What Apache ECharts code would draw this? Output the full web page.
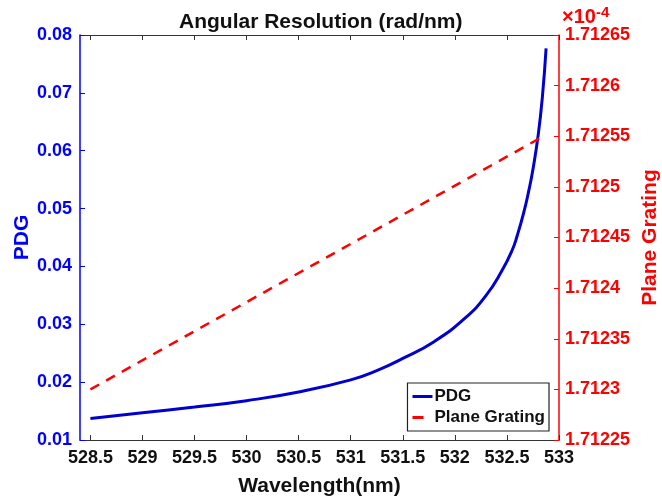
<!DOCTYPE html>
<html>
<head>
<meta charset="utf-8">
<script src="https://cdn.jsdelivr.net/npm/echarts@6/dist/echarts.min.js"></script>
<style>
  html, body { margin: 0; padding: 0; background: #fff; }
  #chart { width: 662px; height: 501px; }
</style>
</head>
<body>
<div id="chart"></div>
<script>
// wavelength (nm) and PDG angular resolution
var pdgWavelength = [528.5, 529.0, 529.5, 530.0, 530.5, 531.0, 531.25, 531.5, 531.8, 532.1, 532.3,
                     532.45, 532.55, 532.6, 532.66, 532.71, 532.75, 532.8, 532.84, 532.876]
var pdgValues = [0.0137, 0.0147, 0.0157, 0.0168, 0.0183, 0.0204, 0.0220, 0.0241, 0.0270, 0.0311, 0.0350,
                 0.0392, 0.0428, 0.0454, 0.0492, 0.0531, 0.0568, 0.0627, 0.0692, 0.0777]

// plane grating (x1e-4 rad/nm)
var planeWavelength = [528.5, 532.85]
var planeValues = [1.7123, 1.71255]

var xTicks = [528.5, 529, 529.5, 530, 530.5, 531, 531.5, 532, 532.5, 533]

var FONT = 'Liberation Sans'
var BLUE = '#0000ff'
var LINE_BLUE = '#0000d0'
var RED = '#ff0000'

function pairs (xs, ys) {
  return xs.map(function (x, i) { return [x, ys[i]] })
}

var option = {
  animation: false,
  backgroundColor: '#fff',
  title: {
    text: 'Angular Resolution (rad/nm)',
    left: 174,
    top: 7,
    textStyle: { fontFamily: FONT, fontWeight: 'bold', fontSize: 21, color: '#111' }
  },
  graphic: [{
    type: 'text',
    left: 562,
    top: 5,
    style: {
      text: '×10{s|-4}',
      rich: { s: { fontSize: 15, fontWeight: 'bold', fill: RED, fontFamily: FONT, verticalAlign: 'top', padding: [0, 0, 10, 0] } },
      fill: RED,
      fontFamily: FONT,
      fontSize: 20,
      fontWeight: 'bold'
    }
  }],
  legend: {
    orient: 'vertical',
    right: 113,
    top: 383,
    backgroundColor: '#fff',
    borderColor: '#222',
    borderWidth: 1.2,
    borderRadius: 0,
    padding: [5, 4, 5, 5],
    itemGap: 4,
    itemWidth: 20,
    itemHeight: 3,
    textStyle: { fontFamily: FONT, fontWeight: 'bold', fontSize: 17, color: '#111', padding: [0, 0, 0, -3] },
    data: [
      { name: 'PDG', icon: 'path://M0,0H20V3H0Z', itemStyle: { color: LINE_BLUE } },
      { name: 'Plane Grating', icon: 'path://M0,0H11V3H0Z M20,0H20.01V3H20Z', itemStyle: { color: RED } }
    ]
  },
  grid: { left: 80, right: 103, top: 35, bottom: 61, containLabel: false, outerBoundsMode: 'none' },
  xAxis: [{
    type: 'value',
    min: 528.4,
    max: 533,
    name: 'Wavelength(nm)',
    nameLocation: 'middle',
    nameGap: 36,
    nameMoveOverlap: false,
    nameTextStyle: { fontFamily: FONT, fontWeight: 'bold', fontSize: 21, color: '#111' },
    axisLine: { lineStyle: { color: '#333', width: 1.2 } },
    axisTick: { inside: true, length: 5, customValues: xTicks, lineStyle: { color: '#333' } },
    axisLabel: {
      customValues: xTicks,
      margin: 9,
      fontFamily: FONT, fontWeight: 'bold', fontSize: 18, color: '#111'
    },
    splitLine: { show: false }
  }, {
    type: 'value',
    position: 'top',
    min: 528.4,
    max: 533,
    axisLine: { onZero: false, lineStyle: { color: '#333', width: 1.2 } },
    axisTick: { inside: true, length: 5, customValues: xTicks, lineStyle: { color: '#333' } },
    axisLabel: { show: false },
    splitLine: { show: false }
  }],
  yAxis: [{
    type: 'value',
    min: 0.01,
    max: 0.08,
    interval: 0.01,
    name: 'PDG',
    nameLocation: 'middle',
    nameRotate: 90,
    nameGap: 47,
    nameMoveOverlap: false,
    nameTextStyle: { fontFamily: FONT, fontWeight: 'bold', fontSize: 21, color: BLUE },
    axisLine: { show: true, lineStyle: { color: BLUE, width: 1.5 } },
    axisTick: { show: true, inside: true, length: 5, lineStyle: { color: BLUE } },
    axisLabel: {
      margin: 8,
      fontFamily: FONT, fontWeight: 'bold', fontSize: 18, color: BLUE,
      formatter: function (v) { return v.toFixed(2) }
    },
    splitLine: { show: false }
  }, {
    type: 'value',
    position: 'right',
    min: 1.71225,
    max: 1.71265,
    interval: 0.00005,
    name: 'Plane Grating',
    nameLocation: 'middle',
    nameRotate: 90,
    nameGap: 81,
    nameMoveOverlap: false,
    nameTextStyle: { fontFamily: FONT, fontWeight: 'bold', fontSize: 21, color: RED },
    axisLine: { show: true, lineStyle: { color: RED, width: 1.5 } },
    axisTick: { show: true, inside: true, length: 5, lineStyle: { color: RED } },
    axisLabel: {
      margin: 6,
      fontFamily: FONT, fontWeight: 'bold', fontSize: 18, color: RED,
      formatter: function (v) { return String(parseFloat(v.toFixed(5))) }
    },
    splitLine: { show: false }
  }],
  series: [{
    name: 'PDG',
    type: 'line',
    xAxisIndex: 0,
    yAxisIndex: 0,
    smooth: 0.5,
    showSymbol: false,
    symbol: 'none',
    color: LINE_BLUE,
    lineStyle: { color: LINE_BLUE, width: 3 },
    data: pairs(pdgWavelength, pdgValues)
  }, {
    name: 'Plane Grating',
    type: 'line',
    xAxisIndex: 0,
    yAxisIndex: 1,
    showSymbol: false,
    symbol: 'none',
    color: RED,
    lineStyle: { color: RED, width: 2.5, type: [10, 8] },
    data: pairs(planeWavelength, planeValues)
  }]
}

var myChart = echarts.init(document.getElementById('chart'))
myChart.setOption(option)
</script>
</body>
</html>
